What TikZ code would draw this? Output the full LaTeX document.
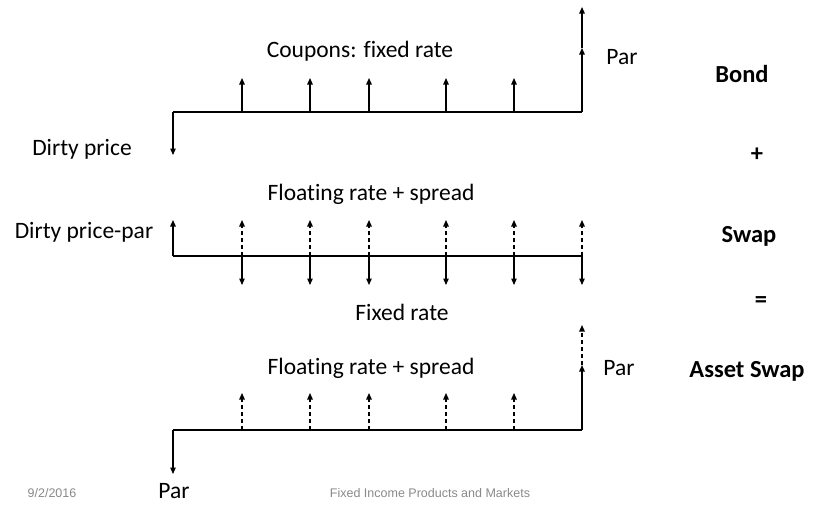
\documentclass[tikz,border=0pt]{standalone}
\usepackage{fontspec}
\setmainfont[Ligatures={NoCommon}]{Carlito}
\newfontfamily\footfont{Liberation Sans}
\usetikzlibrary{arrows.meta}
\definecolor{footgray}{HTML}{898989}
\begin{document}
\begin{tikzpicture}[x=1pt,y=-1pt,line width=1.3pt,
  flow/.style={-{Triangle[length=6.5pt,width=5.5pt]}},
  dflow/.style={flow,dash pattern=on 4pt off 3pt},
  lbl/.style={font=\fontsize{23.5}{28}\selectfont,inner sep=0pt,anchor=base},
  blbl/.style={font=\fontsize{24.5}{28}\selectfont\bfseries,inner sep=0pt,anchor=base},
  foot/.style={font=\footfont\fontsize{12.5}{14}\selectfont,text=footgray,inner sep=0pt,anchor=base}]
\useasboundingbox (0,0) rectangle (814,504);
% ---------- Bond ----------
\coordinate (a0) at (173,112);
\coordinate (a6) at (582,112);
\coordinate (a0d) at (173,155);
\draw (a0) -- (a6);
\draw[flow] (a0) -- (a0d);
\foreach \i/\x in {1/242,2/310,3/369,4/446,5/514}{
  \coordinate (a\i) at (\x,112);
  \coordinate (a\i u) at (\x,78);
  \draw[flow] (a\i) -- (a\i u);
}
\coordinate (a6m) at (582,48);
\coordinate (a6t) at (582,7);
\draw[flow] (a6) -- (a6m);
\draw[flow] (a6m) -- (a6t);
% ---------- Swap ----------
\coordinate (b0) at (173,256);
\coordinate (b6) at (582,256);
\coordinate (b0u) at (173,220);
\draw (b0) -- (b6);
\draw[flow] (b0) -- (b0u);
\foreach \i/\x in {1/242,2/310,3/369,4/446,5/514,6/582}{
  \coordinate (b\i) at (\x,256);
  \coordinate (b\i u) at (\x,220);
  \coordinate (b\i d) at (\x,285);
  \draw[dflow] (b\i) -- (b\i u);
  \draw[flow] (b\i) -- (b\i d);
}
% ---------- Asset swap ----------
\coordinate (c0) at (173,430);
\coordinate (c6) at (582,430);
\coordinate (c0d) at (173,474);
\draw (c0) -- (c6);
\draw[flow] (c0) -- (c0d);
\foreach \i/\x in {1/242,2/310,3/369,4/446,5/514}{
  \coordinate (c\i) at (\x,430);
  \coordinate (c\i u) at (\x,393);
  \draw[dflow] (c\i) -- (c\i u);
}
\coordinate (c6m) at (582,365);
\coordinate (c6t) at (582,325);
\draw[flow] (c6) -- (c6m);
\draw[dflow] (c6m) -- (c6t);
% ---------- labels ----------
\node[lbl] (coupons) at (360,57) {Coupons: fixed rate};
\node[lbl] (par1) at (622,64) {Par};
\node[blbl] (bond) at (742,82) {Bond};
\node[lbl] (dirty) at (82,155) {Dirty price};
\node[blbl,anchor=center] (plus) at (757,155) {+};
\node[lbl] (float1) at (371,200) {Floating rate + spread};
\node[lbl] (dirtypar) at (84,238) {Dirty price-par};
\node[blbl] (swap) at (749,242) {Swap};
\node[lbl] (fixed) at (402,320) {Fixed rate};
\node[blbl,anchor=center] (eq) at (761,302) {=};
\node[lbl] (float2) at (371,374) {Floating rate + spread};
\node[lbl] (par2) at (619,375) {Par};
\node[blbl] (asw) at (747,377) {Asset Swap};
\node[lbl] (par3) at (174,498) {Par};
\node[foot] (date) at (52,497) {9/2/2016};
\node[foot] (title) at (430,497) {Fixed Income Products and Markets};
\end{tikzpicture}
\end{document}
